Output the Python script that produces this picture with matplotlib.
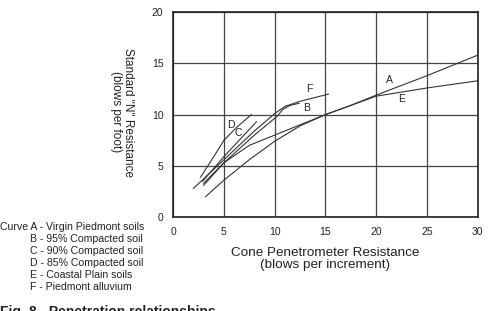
import matplotlib.pyplot as plt
import numpy as np

plt.rcParams['font.family'] = ['Liberation Sans', 'DejaVu Sans']

# curves (cone blows, N blows)
a_x = [3.2, 5, 7.5, 10, 12.5, 15, 17.5, 20, 25, 30]
a_y = [2.0, 3.6, 5.6, 7.4, 8.9, 10.0, 10.9, 11.9, 13.8, 15.8]
b_x = [3.0, 5, 8, 10.2, 10.8, 11.5, 12.4]
b_y = [3.1, 5.3, 8.0, 9.8, 10.5, 10.9, 11.1]
c_x = [2.9, 5, 8.2]
c_y = [3.5, 5.9, 9.3]
d_x = [2.7, 4, 5, 6.3, 7.7]
d_y = [3.9, 5.9, 7.5, 8.8, 10.0]
e_x = [3.0, 5, 7.5, 10, 12.5, 15, 17.5, 20, 25, 30]
e_y = [3.3, 5.3, 7.0, 8.0, 9.0, 10.0, 10.9, 11.8, 12.6, 13.3]
f_x = [2.0, 5, 8, 10, 11, 12.5, 15.3]
f_y = [2.8, 5.6, 8.4, 10.1, 10.8, 11.3, 12.0]

curve_names = ['A', 'B', 'C', 'D', 'E', 'F']
label_x = [21.3, 13.1, 6.4, 5.7, 22.5, 13.4]
label_y = [13.4, 10.6, 8.2, 9.0, 11.5, 12.5]

legend_lines = ['Curve A - Virgin Piedmont soils',
                'B - 95% Compacted soil',
                'C - 90% Compacted soil',
                'D - 85% Compacted soil',
                'E - Coastal Plain soils',
                'F - Piedmont alluvium']

fig = plt.figure(figsize=(4.92, 3.11), dpi=100)
ax = fig.add_axes([0.352, 0.302, 0.619, 0.659])

for xs, ys in [(a_x, a_y), (b_x, b_y), (c_x, c_y), (d_x, d_y), (e_x, e_y), (f_x, f_y)]:
    ax.plot(xs, ys, color='#333333', lw=0.8)

for n, lx, ly in zip(curve_names, label_x, label_y):
    ax.text(lx, ly, n, fontsize=7.5, ha='center', va='center', color='#222222')

ax.set_xlim(0, 30)
ax.set_ylim(0, 20)
ax.set_xticks(np.arange(0, 31, 5))
ax.set_yticks(np.arange(0, 21, 5))
ax.grid(True, color='#444444', lw=0.9)
ax.tick_params(length=0, labelsize=7.5, pad=7, colors='#222222')
for s in ax.spines.values():
    s.set_linewidth(1.2)
    s.set_color('#222222')

ax.set_xlabel('Cone Penetrometer Resistance\n(blows per increment)', fontsize=9.7,
              linespacing=1.05, labelpad=7, color='#222222')
# y label reads top to bottom, first line on the right
fig.text(122 / 492, 1 - 112 / 311, 'Standard "N" Resistance\n(blows per foot)', fontsize=8.5,
         rotation=270, ha='center', va='center', multialignment='center',
         linespacing=1.1, color='#222222')

# legend text at left
fig.text(0.0, 1 - 226.7 / 311, legend_lines[0], fontsize=7.6, va='center', color='#222222')
for i, t in enumerate(legend_lines[1:]):
    fig.text(30 / 492, 1 - (238.7 + 12 * i) / 311, t, fontsize=7.6, va='center', color='#222222')

fig.text(0.0, 1 - 305 / 311, 'Fig. 8 - Penetration relationships', fontsize=10,
         fontweight='bold', va='top', color='#222222')

fig.savefig('out.png', dpi=100)
